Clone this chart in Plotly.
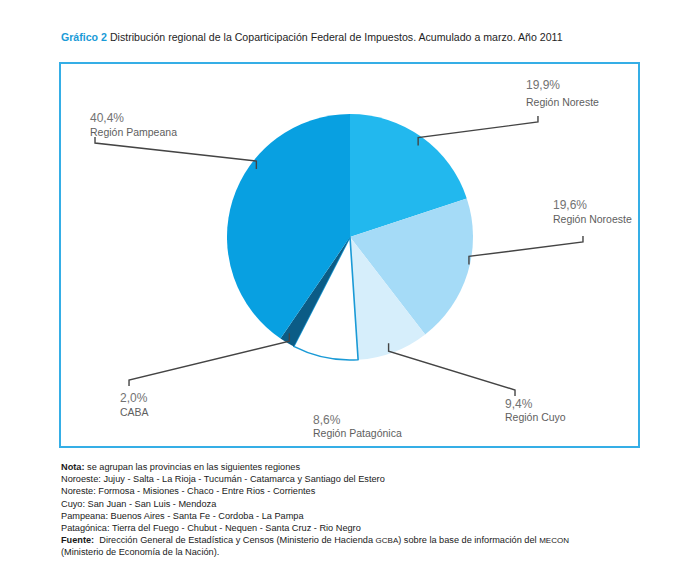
import math
import plotly.graph_objects as go

# ---- data ----
regions = ["Región Noreste", "Región Noroeste", "Región Cuyo", "Región Patagónica", "CABA", "Región Pampeana"]
shares = [19.9, 19.6, 9.4, 8.6, 2.0, 40.4]
share_labels = ["19,9%", "19,6%", "9,4%", "8,6%", "2,0%", "40,4%"]

title_lead = "Gráfico 2"
title_rest = "Distribución regional de la Coparticipación Federal de Impuestos. Acumulado a marzo. Año 2011"
notes = [
    "<b>Nota:</b> se agrupan las provincias en las siguientes regiones",
    "Noroeste: Jujuy - Salta - La Rioja - Tucumán - Catamarca y Santiago del Estero",
    "Noreste: Formosa - Misiones - Chaco - Entre Rios - Corrientes",
    "Cuyo: San Juan - San Luis - Mendoza",
    "Pampeana: Buenos Aires - Santa Fe - Cordoba - La Pampa",
    "Patagónica: Tierra del Fuego - Chubut - Nequen - Santa Cruz - Rio Negro",
    "<b>Fuente:</b>  Dirección General de Estadística y Censos (Ministerio de Hacienda <span style='font-size:8px'>GCBA</span>) sobre la base de información del <span style='font-size:8px'>MECON</span>",
    "(Ministerio de Economía de la Nación).",
]

# ---- styling ----
W, H = 700, 578
OFF = 8  # page body margin
CX, CY, R = 350, 237, 123
colors = ["#22b8ee", "#a5dbf7", "#d6eefb", "#ffffff", "#0b5c86", "#08a0e1"]
line_colors = ["#22b8ee", "#a5dbf7", "#d6eefb", "#1a9ad6", "#0b5c86", "#08a0e1"]
line_widths = [0, 0, 0, 1.6, 0, 0]

# label layout (pixels): text x, percent y, name y, label-tick attach (x,y) or None, position in slice
label_layout = [
    (524, 85, 102, (538, 122), 0.48),
    (551, 205, 219, (583, 242), 0.39),
    (503, 404, 417, (515, 390), 0.56),
    (311, 420, 433, None, None),
    (118, 398, 412, (129, 380), 0.42),
    (88, 118, 132, (95, 143), 0.65),
]

def px(x):
    return (x - OFF) / W

def py(y):
    return 1 - (y - OFF) / H

fig = go.Figure()
fig.add_trace(go.Pie(
    labels=regions, values=shares, sort=False, direction="clockwise", rotation=0,
    textinfo="none", hoverinfo="label+percent", showlegend=False,
    marker=dict(colors=colors, line=dict(color=line_colors, width=line_widths)),
    domain=dict(x=[px(CX - R), px(CX + R)], y=[py(CY + R), py(CY - R)]),
))

annotations = []
shapes = []
total = sum(shares)
cum = 0.0
for i, (name, val, lab) in enumerate(zip(regions, shares, share_labels)):
    tx, ty1, ty2, tick, frac = label_layout[i]
    annotations.append(dict(x=px(tx), y=py(ty1), xref="paper", yref="paper", text=lab,
                            showarrow=False, xanchor="left", yanchor="middle",
                            font=dict(size=12, color="#727272")))
    annotations.append(dict(x=px(tx), y=py(ty2), xref="paper", yref="paper", text=name,
                            showarrow=False, xanchor="left", yanchor="middle",
                            font=dict(size=10.5, color="#5e5e5e")))
    if tick is not None:
        ang = 2 * math.pi * (cum + frac * val) / total
        ax = CX + 0.98 * R * math.sin(ang)
        ay = CY - 0.98 * R * math.cos(ang)
        lx, ly = tick
        d = 1 if ay > ly else -1
        path = "M {:.4f},{:.4f} L {:.4f},{:.4f} L {:.4f},{:.4f} L {:.4f},{:.4f}".format(
            px(lx), py(ly - d * 6), px(lx), py(ly), px(ax), py(ay), px(ax), py(ay + d * 8))
        shapes.append(dict(type="path", xref="paper", yref="paper", path=path,
                           line=dict(color="#444444", width=1.4)))
    cum += val

# frame
shapes.append(dict(type="rect", xref="paper", yref="paper", x0=px(60), x1=px(639), y0=py(447), y1=py(63),
                   line=dict(color="#35aee6", width=2)))

# title
annotations.append(dict(x=px(59), y=py(37), xref="paper", yref="paper", showarrow=False,
                        xanchor="left", yanchor="middle",
                        text="<b style='color:#1a9bd7'>" + title_lead + "</b> " + title_rest,
                        font=dict(size=10.6, color="#1e1e1e")))

# notes
for k, t in enumerate(notes):
    annotations.append(dict(x=px(59), y=py(467 + 12.2 * k), xref="paper", yref="paper", showarrow=False,
                            xanchor="left", yanchor="middle", text=t,
                            font=dict(size=9.2, color="#1a1a1a")))

fig.update_layout(
    width=W, height=H, margin=dict(l=0, r=0, t=0, b=0),
    paper_bgcolor="white", plot_bgcolor="white",
    font=dict(family="Liberation Sans, Arial, sans-serif"),
    annotations=annotations, shapes=shapes,
)
fig.write_html("out.html")
